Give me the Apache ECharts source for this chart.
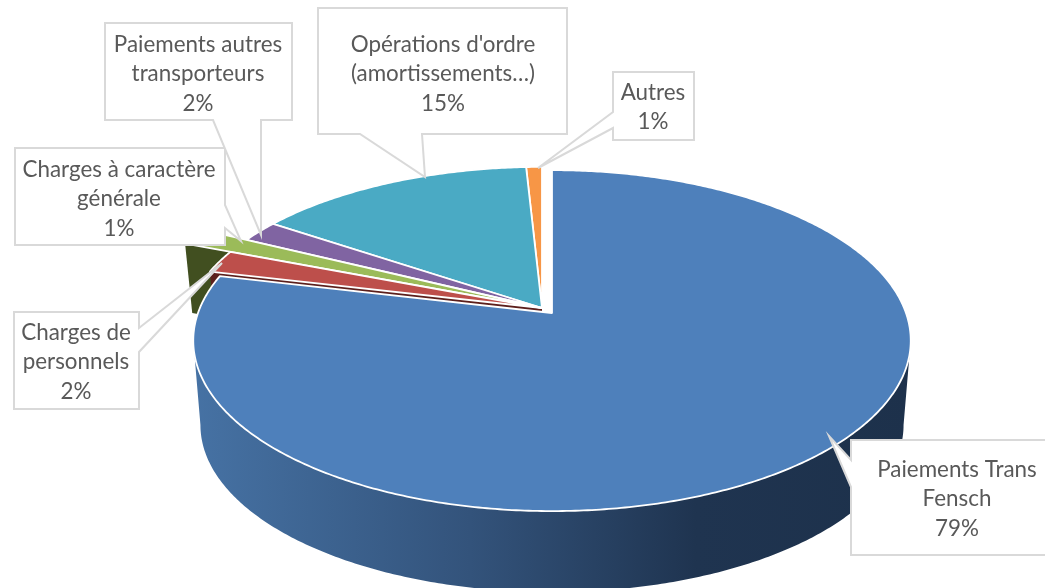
<!DOCTYPE html>
<html><head><meta charset="utf-8">
<style>html,body{margin:0;padding:0;background:#fff}#c{width:1045px;height:588px}</style>
<script src="https://cdn.jsdelivr.net/npm/echarts@6/dist/echarts.min.js"></script>
</head><body><div id="c"></div>
<script>
// ---- data ----
const categories = ['Paiements Trans\nFensch','Charges de\npersonnels','Charges à caractère\ngénérale','Paiements autres\ntransporteurs','Opérations d\'ordre\n(amortissements…)','Autres'];
const values = [78.7, 2.2, 1.45, 2.1, 14.72, 0.83];
const topColors = ['#4e80bb','#bd4f4b','#9bbb59','#8064a2','#4aaac4','#f79646'];
const faceColors = [null,'#5c1f1c','#414f20',null,null,null];
const radiusFactor = [1,1,1.155,1,1,1];
const labelBoxes = [[851,440,1060,115,957,455],[14,312,125,97,76,318],[15,148,210,97,119,155],[105,23,187,97,198,30],[318,8,249,126,443,30],[613,72,81,68,653,78]];
const labelTails = [[[851,460],[829,436],[851,487]],[[139,328],[222,263],[139,352]],[[225,205],[241,241],[225,228]],[[213,120],[261,235],[261,120]],[[360,134],[425,177],[422,134]],[[613,112],[538,168],[613,128]]];
// ---- geometry ----
const total = values.reduce((a,b)=>a+b,0);
const ends = []; values.reduce((s,v,i)=>{ends[i]=[s,s+v/total*2*Math.PI];return s+v/total*2*Math.PI;},0);
const K=0.162, A=354;
const blueTop={cx:552,cy:313,s:1,b:166}, blueBase={cx:552,cy:398,s:0.98,b:166};
const restTop={cx:542,cy:308,s:1,b:164}, restBase={cx:542,cy:376,s:0.98,b:164};
const sideFrom=Math.acos(-K), sideTo=2*Math.PI-sideFrom;
function pr(g,t,r){const u=Math.sin(t)*r,v=-Math.cos(t)*r,d=1-K*v;return [g.cx+g.s*A*u/d,g.cy+g.s*g.b*v/d];}
function arc(g,t0,t1,r){const n=Math.max(4,Math.ceil(Math.abs(t1-t0)/0.01)),p=[];for(let i=0;i<=n;i++)p.push(pr(g,t0+(t1-t0)*i/n,r));return p;}
const sideFill={type:'linear',global:true,x:193,y:0,x2:911,y2:0,colorStops:[
 {offset:0,color:'#4672a4'},{offset:0.386,color:'#33537b'},{offset:0.7,color:'#1f3450'},{offset:1,color:'#1d314b'}]};
function poly(points,fill,z2,stroke){return {type:'polygon',z2,silent:true,shape:{points},style:{fill,stroke:stroke||null,lineWidth:stroke?1.8:0,lineJoin:'round'}};}
function renderSlice(params,api){
  const i=api.value(1), [t0,t1]=ends[i], r=radiusFactor[i], kids=[];
  if(i===0){
    const a=Math.max(t0,sideFrom), b=Math.min(t1,sideTo);
    kids.push(poly(arc(blueTop,a,b,1).concat(arc(blueBase,a,b,1).reverse()),sideFill,40));
    kids.push(poly([[blueTop.cx,blueTop.cy]].concat(arc(blueTop,t0,t1,1)),topColors[0],50,'#fff'));
  } else {
    const apex=[restTop.cx,restTop.cy];
    if(faceColors[i]){
      kids.push(poly([apex,pr(restTop,t0,r),pr(restBase,t0,r),[restBase.cx,restBase.cy]],faceColors[i],i===2?5:10));
    }
    kids.push(poly([apex].concat(arc(restTop,t0,t1,r)),topColors[i],30-i,'#fff'));
  }
  return {type:'group',children:kids};
}
function renderLabel(params,api){
  const i=api.value(1), b=labelBoxes[i], t=labelTails[i];
  const x0=b[0],y0=b[1],x1=b[0]+b[2],y1=b[1]+b[3], pts=[[x0,y0],[x1,y0]];
  if(t[0][0]===x1) pts.push(t[0],t[1],t[2]);
  pts.push([x1,y1]);
  if(t[0][1]===y1) pts.push(t[2],t[1],t[0]);
  pts.push([x0,y1]);
  if(t[0][0]===x0) pts.push(t[2],t[1],t[0]);
  return {type:'group',children:[
    {type:'polygon',z2:100+i,silent:true,shape:{points:pts},style:{fill:'#fff',stroke:'#d9d9d9',lineWidth:2,lineJoin:'miter'}},
    {type:'text',z2:120+i,silent:true,style:{text:categories[i]+'\n'+Math.round(api.value(0))+'%',x:b[4],y:b[5],align:'center',verticalAlign:'top',fontFamily:'Lato',fontSize:22.4,lineHeight:29.5,fill:'#595959'}}
  ]};
}
const rows=values.map((v,i)=>[v,i]);
const chart=echarts.init(document.getElementById('c'),null,{renderer:'canvas'});
chart.setOption({animation:false,backgroundColor:'#fff',
 series:[
  {type:'custom',coordinateSystem:'none',renderItem:renderSlice,data:rows,silent:true,clip:false},
  {type:'custom',coordinateSystem:'none',renderItem:renderLabel,data:rows,silent:true,clip:false,z:5}
 ]});
</script></body></html>
